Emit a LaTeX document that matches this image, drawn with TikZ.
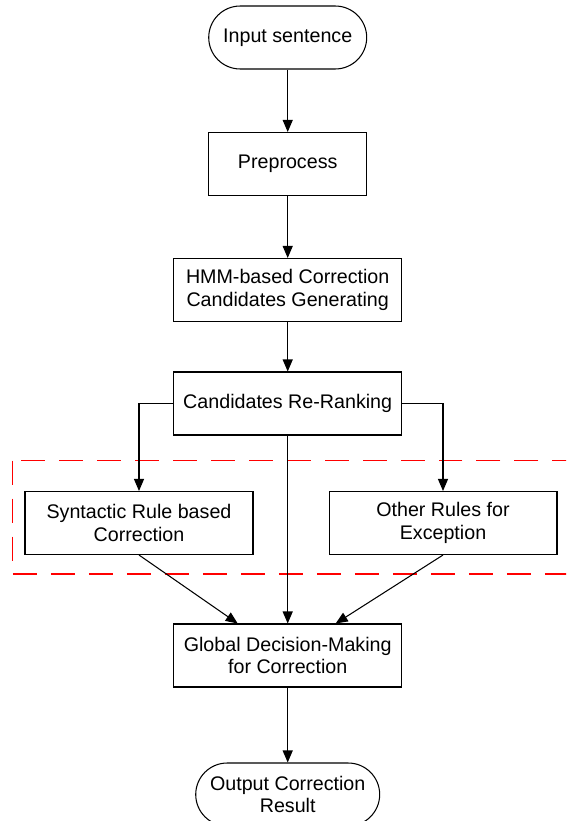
\documentclass[tikz,border=0pt]{standalone}
\usepackage{fontspec}
\setmainfont{Liberation Sans}
\usepackage{tikz}
\usetikzlibrary{arrows.meta, positioning}

\begin{document}
\begin{tikzpicture}[x=0.02cm, y=-0.02cm,
    every node/.style={draw, line width=0.6pt, align=center, font=\fontsize{11.2}{13}\selectfont},
    proc/.style={rectangle, minimum width=4.56cm, minimum height=1.26cm},
    term/.style={rectangle, rounded corners=0.63cm, minimum height=1.26cm},
    arr/.style={-{Triangle[length=0.24cm, width=0.2cm]}, line width=0.6pt}]
    \useasboundingbox (0,0) rectangle (566,821);
    \clip (0,0) rectangle (566,821);
    \node[term, minimum width=3.16cm] (input) at (287.7,37.5) {Input sentence};
    \node[proc, minimum width=3.16cm] (pre) at (287.7,164) {Preprocess};
    \node[proc] (hmm) at (287.7,290) {HMM-based Correction\\Candidates Generating};
    \node[proc] (cand) at (287.7,403.5) {Candidates Re-Ranking};
    \node[proc] (syn) at (139,523) {Syntactic Rule based\\Correction};
    \node[proc] (oth) at (443,523) {Other Rules for\\Exception};
    \node[proc] (glob) at (287.7,655.5) {Global Decision-Making\\for Correction};
    \node[term, minimum width=3.68cm] (out) at (287.7,794.5) {Output Correction\\Result};
    % rule based part
    \draw[red, dashed, line width=0.6pt, dash pattern=on 0.48cm off 0.28cm] (12.3,460.7) rectangle (580,574);
    \draw[arr] (input) -- (pre);
    \draw[arr] (pre) -- (hmm);
    \draw[arr] (hmm) -- (cand);
    \draw[arr] (cand.west) -| (syn.north);
    \draw[arr] (cand.east) -| (oth.north);
    \draw[arr] (cand) -- (glob);
    \draw[arr] (syn.south) -- ([xshift=-1cm]glob.north);
    \draw[arr] (oth.south) -- ([xshift=0.96cm]glob.north);
    \draw[arr] (glob) -- (out);
\end{tikzpicture}
\end{document}
